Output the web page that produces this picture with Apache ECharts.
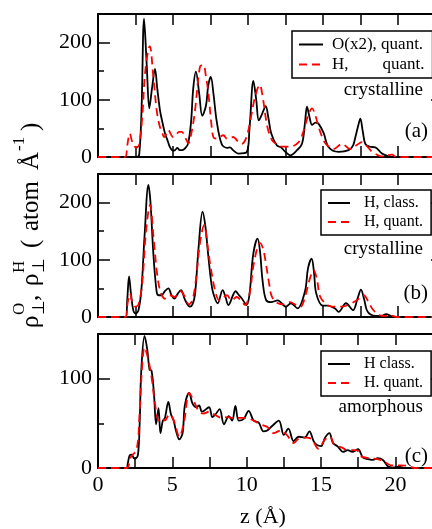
<!DOCTYPE html>
<html>
<head>
<meta charset="utf-8">
<script src="https://cdn.jsdelivr.net/npm/echarts@6/dist/echarts.min.js"></script>
<style>
  html, body { margin: 0; padding: 0; background: #fff; overflow: hidden; }
  /* the frame's right edge runs a little past the visible page */
  #chart { width: 443px; height: 529px; }
</style>
</head>
<body>
<div id="chart"></div>
<script>
// ---- density profiles along z (Å) ----
// (a) crystalline: oxygen (x2) and hydrogen, quantum
const aOxZ   = [0, 2.6, 2.75, 2.9, 3.07, 3.25, 3.42, 3.6, 3.8, 3.95, 4.13, 4.3, 4.47, 4.65, 4.8, 5.0, 5.13, 5.3, 5.45, 5.62, 5.8, 6.0, 6.2, 6.35, 6.53, 6.75, 6.95, 7.2, 7.35, 7.52, 7.7, 7.91, 8.24, 8.6, 8.8, 9.0, 9.36, 9.9, 10.1, 10.36, 10.55, 10.72, 10.95, 11.18, 11.35, 11.55, 11.93, 12.2, 12.49, 12.82, 13.27, 13.6, 13.8, 13.93, 14.1, 14.27, 14.5, 14.71, 15.04, 15.38, 16.04, 16.71, 17.0, 17.16, 17.35, 17.49, 17.65, 17.82, 18.1, 18.49, 18.93, 19.4, 19.7, 23];
const aOxRho = [0, 0, 5, 80, 242, 160, 85, 120, 154, 120, 82, 60, 41, 28, 17, 11, 12, 16, 12, 12, 15, 23, 60, 120, 149, 110, 72, 90, 125, 140, 110, 63, 23, 16, 17, 12, 6, 8, 50, 133, 100, 64, 76, 89, 70, 41, 20, 17, 9, 3, 12, 23, 60, 88, 70, 56, 60, 58, 42, 17, 9, 12, 20, 35, 55, 67, 45, 23, 18, 17, 6, 1, 0, 0];
const aHqZ   = [0, 1.8, 1.95, 2.12, 2.3, 2.55, 2.75, 2.95, 3.15, 3.45, 3.69, 3.91, 4.1, 4.24, 4.42, 4.69, 4.85, 5.0, 5.2, 5.4, 5.58, 5.8, 6.02, 6.25, 6.47, 6.8, 7.02, 7.2, 7.36, 7.55, 7.69, 7.9, 8.36, 8.6, 9.02, 9.3, 9.58, 9.9, 10.2, 10.47, 10.78, 10.95, 11.27, 11.5, 11.71, 12.27, 12.8, 13.38, 13.7, 14.0, 14.27, 14.5, 14.71, 15.1, 15.4, 15.71, 16.27, 16.8, 17.2, 17.6, 17.9, 18.27, 18.6, 18.9, 19.3, 19.6, 19.9, 23];
const aHqRho = [0, 0, 20, 41, 25, 16, 22, 70, 150, 194, 140, 82, 55, 45, 35, 47, 40, 35, 38, 44, 44, 35, 24, 45, 82, 158, 161, 140, 111, 60, 35, 32, 38, 32, 35, 28, 23, 35, 70, 105, 126, 110, 55, 35, 26, 18, 18, 26, 45, 72, 85, 72, 52, 26, 18, 14, 23, 14, 20, 26, 20, 9, 4, 1, 3, 4, 0, 0];

// (b) crystalline: hydrogen, classical vs quantum
const bHcZ   = [0, 1.84, 1.95, 2.07, 2.2, 2.35, 2.51, 2.7, 2.9, 3.1, 3.36, 3.5, 3.69, 3.91, 4.05, 4.24, 4.45, 4.69, 4.9, 5.09, 5.3, 5.53, 5.8, 6.13, 6.3, 6.47, 6.7, 6.97, 7.15, 7.36, 7.55, 7.69, 7.98, 8.31, 8.5, 8.69, 9.18, 9.4, 9.6, 9.91, 10.1, 10.35, 10.64, 10.8, 10.97, 11.2, 11.53, 11.98, 12.53, 12.87, 13.3, 13.8, 14.0, 14.24, 14.4, 14.55, 14.98, 15.3, 15.8, 16.04, 16.53, 17.0, 17.3, 17.53, 17.75, 17.98, 18.5, 18.9, 19.2, 19.6, 19.8, 23];
const bHcRho = [0, 0, 30, 71, 40, 12, 6, 12, 50, 140, 231, 200, 111, 44, 38, 38, 45, 50, 38, 32, 40, 47, 30, 18, 22, 40, 120, 184, 160, 105, 60, 41, 24, 47, 35, 21, 45, 38, 32, 21, 40, 110, 137, 115, 64, 30, 26, 29, 18, 24, 15, 45, 85, 102, 78, 41, 20, 20, 15, 9, 24, 12, 32, 48, 30, 9, 2, 2, 5, 1, 0, 0];
const bHqZ   = [0, 1.84, 1.95, 2.13, 2.3, 2.47, 2.7, 2.95, 3.2, 3.47, 3.7, 3.91, 4.1, 4.24, 4.45, 4.8, 5.1, 5.5, 5.8, 6.05, 6.3, 6.55, 6.8, 7.08, 7.3, 7.47, 7.8, 8.1, 8.6, 8.9, 9.24, 9.5, 9.8, 10.1, 10.4, 10.8, 11.0, 11.16, 11.4, 11.6, 12.0, 12.4, 12.8, 13.2, 13.5, 13.8, 14.1, 14.38, 14.6, 14.82, 15.3, 15.6, 16.27, 16.9, 17.3, 17.71, 18.0, 18.3, 18.8, 19.2, 19.5, 19.9, 23];
const bHqRho = [0, 0, 20, 41, 25, 18, 22, 60, 150, 196, 140, 82, 50, 39, 32, 38, 35, 45, 35, 22, 30, 70, 130, 161, 125, 94, 47, 29, 38, 29, 35, 30, 21, 40, 95, 129, 120, 99, 60, 35, 24, 22, 26, 21, 18, 35, 65, 82, 65, 35, 21, 18, 18, 24, 30, 38, 28, 14, 3, 2, 3, 0, 0];

// (c) amorphous: hydrogen, classical vs quantum
const cHcZ   = [0, 1.91, 2.0, 2.13, 2.27, 2.4, 2.51, 2.69, 2.8, 2.91, 3.13, 3.31, 3.47, 3.6, 3.76, 3.91, 4.07, 4.2, 4.36, 4.5, 4.73, 4.91, 5.09, 5.24, 5.47, 5.69, 5.84, 6.13, 6.36, 6.6, 6.8, 7.0, 7.47, 7.69, 7.9, 8.18, 8.47, 8.8, 9.02, 9.24, 9.47, 9.8, 10.13, 10.47, 10.8, 11.13, 11.38, 11.71, 12.16, 12.5, 12.8, 13.16, 13.49, 13.9, 14.22, 14.5, 14.7, 15.0, 15.27, 15.56, 15.8, 16.13, 16.47, 16.8, 17.1, 17.49, 17.82, 18.16, 18.49, 18.82, 19.16, 19.49, 19.82, 20.27, 20.6, 23];
const cHcRho = [0, 0, 5, 14, 15, 11, 10.5, 15, 49, 109, 148, 133, 110, 109, 84, 49, 67, 39, 53, 56, 74, 60, 53, 42, 32, 39, 70, 84, 72, 68, 70, 63, 68, 57, 60, 66, 49, 58, 53, 69.5, 53, 55, 64, 53, 51, 41, 42, 47, 53, 37, 44, 30, 35, 34, 41, 30, 26, 24.5, 34, 39, 28, 24, 18, 20, 18, 21, 11.5, 10, 9, 11, 9, 2, 0.5, 1.5, 0, 0];
const cHqZ   = [0, 1.91, 2.2, 2.6, 2.8, 2.96, 3.13, 3.36, 3.6, 3.82, 4.1, 4.35, 4.5, 4.8, 5.1, 5.47, 5.8, 6.13, 6.47, 6.8, 7.1, 7.47, 7.8, 8.36, 8.69, 9.13, 9.58, 10.02, 10.47, 10.91, 11.38, 11.82, 12.27, 12.7, 13.16, 13.6, 14.0, 14.38, 14.82, 15.27, 15.6, 15.9, 16.38, 16.8, 17.38, 17.7, 18.27, 18.8, 19.27, 19.7, 20.27, 20.93, 21.3, 23];
const cHqRho = [0, 0, 12, 21, 63, 112, 135, 123, 102, 74, 53, 56, 53, 60, 53, 35, 53, 84, 74, 63, 61, 63, 60, 56, 57, 56, 56, 56, 53, 49, 46, 39, 42, 37, 28, 34, 34, 32, 21.5, 32, 35, 26, 23, 20, 20, 13, 11, 10, 7, 3, 3, 2, 0, 0];

// ---- labels ----
const legendA = ['O(x2), quant.', 'H,        quant.'];
const legendB = ['H, class.', 'H, quant.'];
const legendC = ['H class.', 'H. quant.'];
const phaseLabels = ['crystalline', 'crystalline', 'amorphous'];
const panelTags = ['(a)', '(b)', '(c)'];
const yMaxes = [250, 250, 150];
const xTickLabels = [0, 5, 10, 15, 20];

const FONT = 'Liberation Serif';
const panelTops = [14, 174, 334];
const panelHeight = 143;

function pairs(xs, ys) { return xs.map((x, i) => [x, ys[i]]); }

function xAxisFor(g, pos, withLabels) {
  return {
    type: 'value', gridIndex: g, position: pos, min: 0, max: 23, interval: 2.5,
    axisLine: { show: true, onZero: false, lineStyle: { color: '#000', width: 2 } },
    axisTick: { show: true, inside: true, length: 11, lineStyle: { color: '#000', width: 1.5 } },
    axisLabel: {
      show: withLabels, margin: 6, color: '#000', fontFamily: FONT, fontSize: 22,
      formatter: v => (xTickLabels.indexOf(v) >= 0 ? String(v) : '')
    },
    splitLine: { show: false },
    name: (withLabels ? 'z (Å)' : ''), nameLocation: 'middle', nameGap: 38,
    nameTextStyle: { color: '#000', fontFamily: FONT, fontSize: 22, padding: [0, 12, 0, 0] }
  };
}

function yAxesFor(g) {
  const base = {
    type: 'value', gridIndex: g, min: 0, max: yMaxes[g], splitLine: { show: false }
  };
  return [
    Object.assign({}, base, {
      position: 'left', interval: 100,
      axisLine: { show: true, onZero: false, lineStyle: { color: '#000', width: 2 } },
      axisTick: { show: true, inside: true, length: 12, lineStyle: { color: '#000', width: 1.5 } },
      axisLabel: {
        margin: 6, color: '#000', fontFamily: FONT, fontSize: 22,
        formatter: v => (v % 100 === 0 ? String(v) : '')
      }
    }),
    Object.assign({}, base, {
      position: 'left', interval: 50,
      axisLine: { show: false, onZero: false },
      axisTick: { show: true, inside: true, length: 6, lineStyle: { color: '#000', width: 1.5 } },
      axisLabel: { show: false }
    }),
    Object.assign({}, base, {
      position: 'right', interval: 100,
      axisLine: { show: true, onZero: false, lineStyle: { color: '#000', width: 2 } },
      axisTick: { show: true, inside: true, length: 12, lineStyle: { color: '#000', width: 1.5 } },
      axisLabel: { show: false }
    })
  ];
}

function lineSeries(name, xs, ys, g, dashed) {
  const color = dashed ? '#ff0000' : '#000000';
  return {
    type: 'line', name: name, xAxisIndex: g * 2, yAxisIndex: g * 3,
    data: pairs(xs, ys), symbol: 'none', showSymbol: false, smooth: 0.35,
    lineStyle: { color: color, width: 1.8, type: dashed ? [8, 5] : 'solid' },
    itemStyle: { color: color }, z: dashed ? 3 : 2, animation: false
  };
}

function legendFor(names, left, top, iconW, textPad, fontSize) {
  return {
    data: names, orient: 'vertical', left: left, top: top,
    itemWidth: iconW, itemHeight: 12, itemGap: 3, padding: [5, 8, 5, 6],
    borderColor: '#000', borderWidth: 1.5, backgroundColor: '#fff',
    selectedMode: false,
    itemStyle: { opacity: 0, borderWidth: 0 },
    textStyle: { color: '#000', fontFamily: FONT, fontSize: fontSize, padding: [0, 0, 0, textPad] }
  };
}

const grids = panelTops.map(t => ({ left: 98, right: 0, top: t, height: panelHeight }));
const xAxes = [];
const yAxes = [];
for (let g = 0; g < 3; g++) {
  xAxes.push(xAxisFor(g, 'bottom', g === 2));
  xAxes.push(xAxisFor(g, 'top', false));
  yAxes.push(...yAxesFor(g));
}

const series = [
  lineSeries(legendA[0], aOxZ, aOxRho, 0, false),
  lineSeries(legendA[1], aHqZ, aHqRho, 0, true),
  lineSeries(legendB[0], bHcZ, bHcRho, 1, false),
  lineSeries(legendB[1], bHqZ, bHqRho, 1, true),
  lineSeries(legendC[0], cHcZ, cHcRho, 2, false),
  lineSeries(legendC[1], cHqZ, cHqRho, 2, true)
];

const phaseY = [92, 251, 409];
const tagY = [133, 295, 458];
const annotations = [];
for (let g = 0; g < 3; g++) {
  annotations.push({
    type: 'text', right: 20, top: phaseY[g] - 11,
    style: { text: phaseLabels[g], fill: '#000', font: '19px "' + FONT + '"' }
  });
  annotations.push({
    type: 'text', right: 15, top: tagY[g] - 12,
    style: { text: panelTags[g], fill: '#000', font: '21px "' + FONT + '"' }
  });
}

// rotated y-axis title:  ρ⊥^O, ρ⊥^H ( atom Å^-1 )
const big = '25px "' + FONT + '"';
const small = '17px "' + FONT + '"';
function t(text, x, y, font) {
  return { type: 'text', x: x, y: y, style: { text: text, font: font, fill: '#000', verticalAlign: 'middle' } };
}
annotations.push({
  type: 'group', x: 31, y: 328, rotation: Math.PI / 2,
  children: [
    t('ρ', 0, 0, big),
    t('O', 13, -11, small),
    t('⊥', 13, 9, small),
    t(',', 27, 0, big),
    t('ρ', 42, 0, big),
    t('H', 55, -11, small),
    t('⊥', 55, 9, small),
    t('(', 80, 0, big),
    t('atom', 97, 0, big),
    t('Å', 158, 0, big),
    t('-1', 177, -11, small),
    t(')', 197, 0, big)
  ]
});

const chart = echarts.init(document.getElementById('chart'), null, { renderer: 'canvas' });
chart.setOption({
  animation: false,
  backgroundColor: '#fff',
  grid: grids,
  xAxis: xAxes,
  yAxis: yAxes,
  legend: [
    legendFor(legendA, 292, 31, 24, 4, 17),
    legendFor(legendB, 321, 190, 22, 9, 16),
    legendFor(legendC, 321, 351, 22, 9, 16)
  ],
  series: series,
  graphic: annotations
});
</script>
</body>
</html>
